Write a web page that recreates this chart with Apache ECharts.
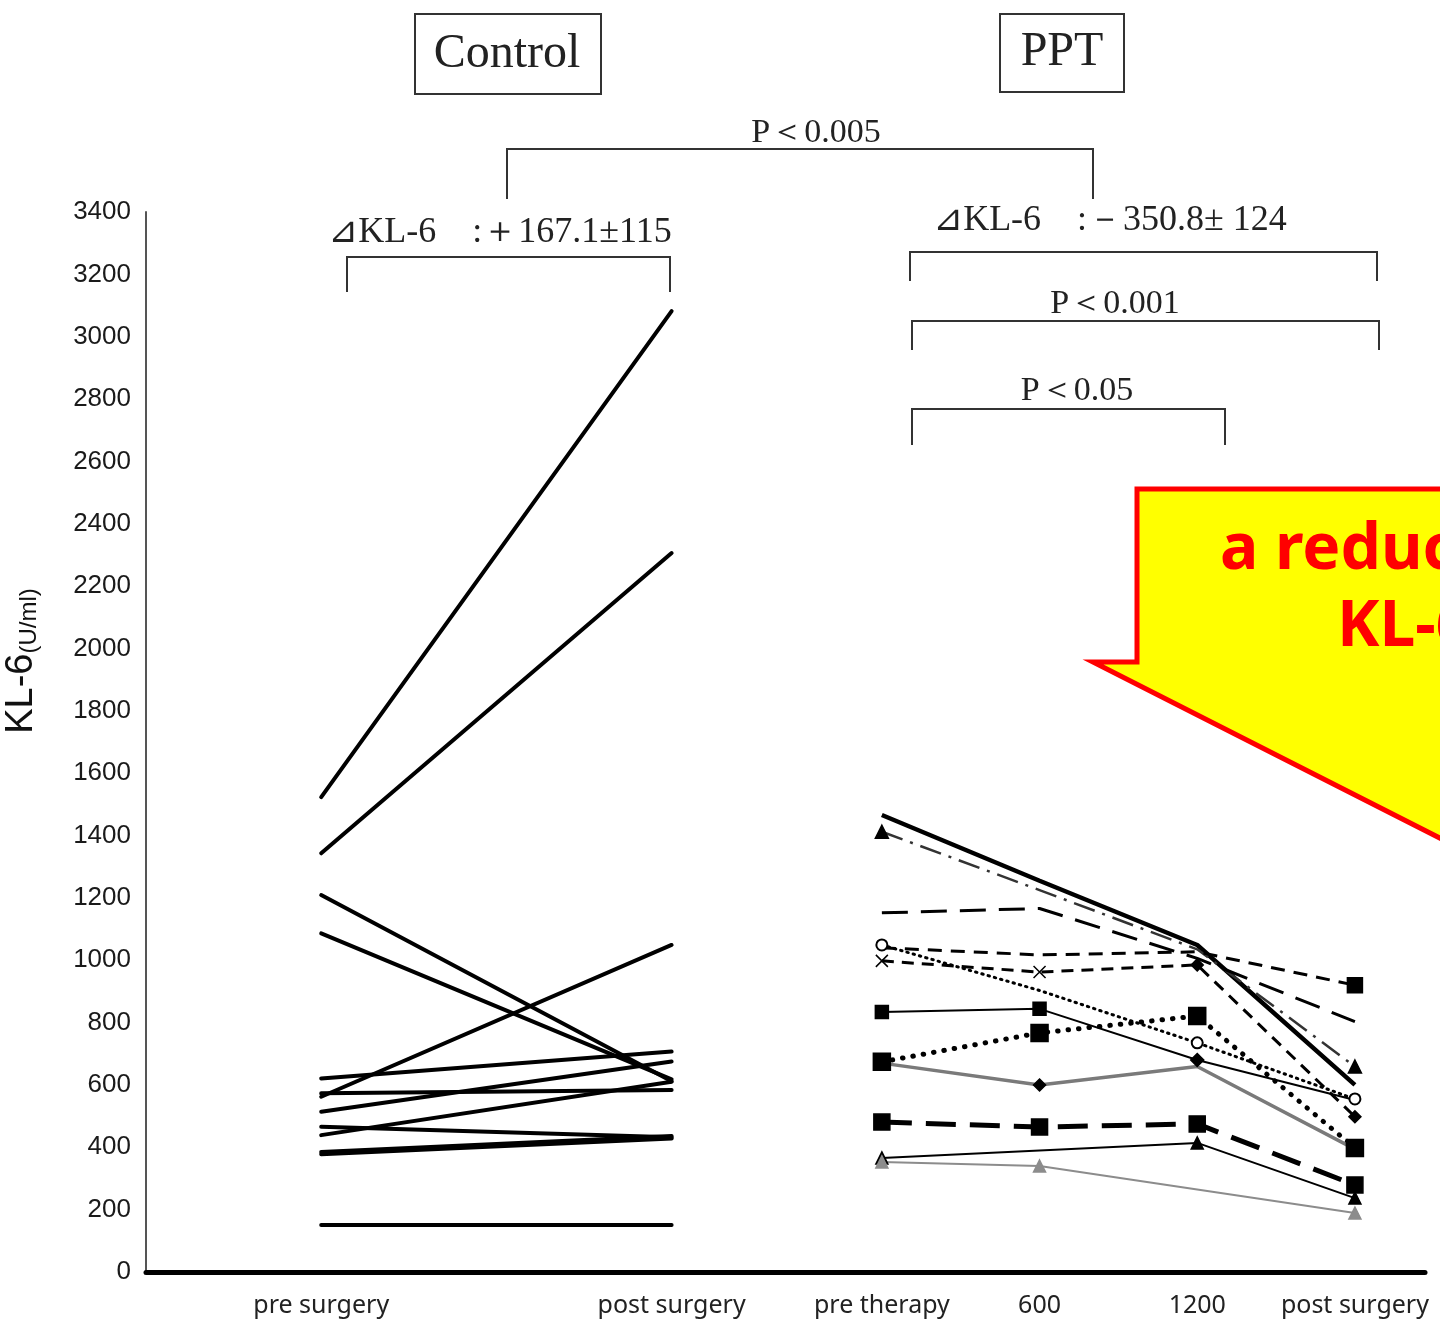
<!DOCTYPE html>
<html><head><meta charset="utf-8">
<script src="https://cdn.jsdelivr.net/npm/echarts@6/dist/echarts.min.js"></script>
<style>html,body{margin:0;padding:0;background:#fff}#c{width:1440px;height:1323px}</style>
</head><body><div id="c"></div>
<script>
// ---- axis stops (data units along the time axis) and labels ----
const xStops  = [10, 30, 42, 51, 60, 69];
const xLabels = ['pre surgery', 'post surgery', 'pre therapy', '600', '1200', 'post surgery'];
const yMin = 0, yMax = 3400, yStep = 200;

// ---- Control group: pre surgery -> post surgery (U/ml) ----
const controlPre  = [1523, 1343, 1209, 1086, 562, 621, 573, 514, 466, 439, 385, 378, 151];
const controlPost = [3082, 2306, 612, 618, 1049, 707, 584, 675, 432, 610, 436, 428, 151];

// ---- PPT group: pre therapy, 600, 1200, post surgery (U/ml) ----
const pptSolid        = [1466, 1255, 1049, 600];
const pptDashDotTri   = [1412, 1225, 1035, 659];
const pptLongDash     = [1152, 1166, 1006, 803];
const pptCircleDot    = [1049, 903, 735, 555];
const pptDashSquare   = [1040, 1017, 1027, 920];
const pptCrossDash    = [998, 962, 985, 498];
const pptSquareSolid  = [834, 844, 680, 552];
const pptBigSquareDot = [674, 767, 821, 398];
const pptGrayDouble   = [670, 600, 659, 394];
const pptSquareHeavy  = [481, 465, 475, 279];
const pptTriSolid     = [366, null, 414, 237];
const pptGrayTri      = [353, 340, null, 189];

// ---- styles (kept apart from the values) ----
const X = 'path://M0,0L10,10M10,0L0,10';
const pptSeriesDefs = [
  {v: pptSolid,        line: {color:'#000', width:4.5},                       sym: ['none','none','none','none'], size: 0},
  {v: pptDashDotTri,   line: {color:'#333', width:2.5, type:[22,8,3,8]},       sym: ['triangle','none','none','triangle'], size: 13},
  {v: pptLongDash,     line: {color:'#000', width:3, type:[26,13]},            sym: ['none','none','none','none'], size: 0},
  {v: pptCircleDot,    line: {color:'#000', width:3, type:[1.5,5], cap:'round'}, sym: ['emptyCircle','none','emptyCircle','emptyCircle'], size: 11},
  {v: pptDashSquare,   line: {color:'#000', width:3, type:[14,9]},             sym: ['none','none','none','rect'], size: 15},
  {v: pptCrossDash,    line: {color:'#000', width:3, type:[12,8]},             sym: [X, X, 'diamond', 'diamond'], size: 12},
  {v: pptSquareSolid,  line: {color:'#000', width:2},                          sym: ['rect','rect','diamond','none'], size: 13},
  {v: pptBigSquareDot, line: {color:'#000', width:5, type:[0.5,10], cap:'round'}, sym: ['rect','rect','rect','rect'], size: 17},
  {v: pptGrayDouble,   line: {color:'#7a7a7a', width:3.5},                     sym: ['none','diamond','none','none'], size: 12},
  {v: pptSquareHeavy,  line: {color:'#000', width:5, type:[30,14]},            sym: ['rect','rect','rect','rect'], size: 16},
  {v: pptTriSolid,     line: {color:'#000', width:2},                          sym: ['triangle','none','triangle','triangle'], size: 12},
  {v: pptGrayTri,      line: {color:'#8c8c8c', width:2},                       sym: ['triangle','triangle','triangle','triangle'], size: 12, color:'#8c8c8c'}
];

const series = [];
controlPre.forEach((pre, i) => {
  series.push({
    type: 'line', symbol: 'none', silent: true,
    lineStyle: {color: '#000', width: 4, cap: 'round'},
    data: [[xStops[0], pre], [xStops[1], controlPost[i]]]
  });
});
pptSeriesDefs.forEach(d => {
  const data = [];
  d.v.forEach((val, j) => {
    if (val === null) return;
    data.push({value: [xStops[2 + j], val], symbol: d.sym[j], symbolSize: d.size});
  });
  series.push({
    type: 'line', silent: true, showSymbol: true, symbol: 'none',
    lineStyle: d.line,
    itemStyle: {color: d.color || '#000', borderColor: d.color || '#000', borderWidth: 1.5},
    data
  });
});

const serif = '"Liberation Serif", "Times New Roman", serif';
function bracket(x1, x2, yTop, yBot) {
  return {type:'polyline', z: 10, shape:{points:[[x1,yBot],[x1,yTop],[x2,yTop],[x2,yBot]]},
          style:{stroke:'#333', lineWidth:2, fill:null}};
}
function label(text, x, y, size) {
  return {type:'text', z: 10, x, y, style:{text, font: size + 'px ' + serif, fill:'#222', align:'center', verticalAlign:'middle'}};
}

const graphic = [
  {type:'rect', z:10, shape:{x:415, y:14, width:186, height:80}, style:{stroke:'#333', lineWidth:2, fill:'#fff'}},
  label('Control', 507, 54, 48),
  {type:'rect', z:10, shape:{x:1000, y:14, width:124, height:78}, style:{stroke:'#333', lineWidth:2, fill:'#fff'}},
  label('PPT', 1062, 52, 48),
  label('P＜0.005', 816, 133, 34),
  bracket(507, 1093, 149, 199),
  label('⊿KL-6    :＋167.1±115', 500, 233, 36),
  bracket(347, 670, 257, 292),
  label('⊿KL-6    :－350.8± 124', 1110, 221, 36),
  bracket(910, 1377, 252, 281),
  label('P＜0.001', 1115, 304, 34),
  bracket(912, 1379, 321, 350),
  label('P＜0.05', 1077, 391, 34),
  bracket(912, 1225, 409, 445),
  {type:'polygon', z: 20, shape:{points:[[1137,489],[1700,489],[1700,970],[1093,662],[1137,662]]},
   style:{fill:'#ffff00', stroke:'#ff0000', lineWidth:5, lineJoin:'miter'}},
  {type:'text', z: 21, x: 1220, y: 551, style:{text:'a reduction in', font:'bold 64px "Noto Sans", sans-serif', fill:'#ff0000', align:'left', verticalAlign:'middle'}},
  {type:'text', z: 21, x: 1337, y: 628, style:{text:'KL-6', font:'bold 64px "Noto Sans", sans-serif', fill:'#ff0000', align:'left', verticalAlign:'middle'}},
  {type:'text', z: 10, x: 22, y: 661, rotation: Math.PI / 2,
   style:{text:'{a|KL-6}{b|(U/ml)}', align:'center', verticalAlign:'middle',
          rich:{a:{font:'38px "Liberation Sans", Arial, sans-serif', fill:'#111', verticalAlign:'bottom'},
                b:{font:'24px "Liberation Sans", Arial, sans-serif', fill:'#111', verticalAlign:'bottom'}}}}
];

const chart = echarts.init(document.getElementById('c'), null, {renderer: 'canvas'});
chart.setOption({
  animation: false,
  backgroundColor: '#fff',
  grid: {left: 146, right: 15, top: 212, bottom: 51, containLabel: false, outerBoundsMode: 'none'},
  xAxis: {
    type: 'value', min: 0, max: 73,
    splitLine: {show: false}, axisTick: {show: false},
    axisLine: {show: true, lineStyle: {color: '#000', width: 5}},
    axisLabel: {
      customValues: xStops,
      formatter: v => xLabels[xStops.indexOf(v)] || '',
      fontFamily: '"Noto Sans", sans-serif', fontSize: 25, color: '#222', margin: 21
    }
  },
  yAxis: {
    type: 'value', min: yMin, max: yMax, interval: yStep,
    splitLine: {show: false}, axisTick: {show: false},
    axisLine: {show: true, lineStyle: {color: '#555', width: 2}},
    axisLabel: {formatter: v => String(v), fontFamily: '"Liberation Sans", Arial, sans-serif', fontSize: 26, color: '#1a1a1a', margin: 15}
  },
  graphic,
  series
});
</script></body></html>
